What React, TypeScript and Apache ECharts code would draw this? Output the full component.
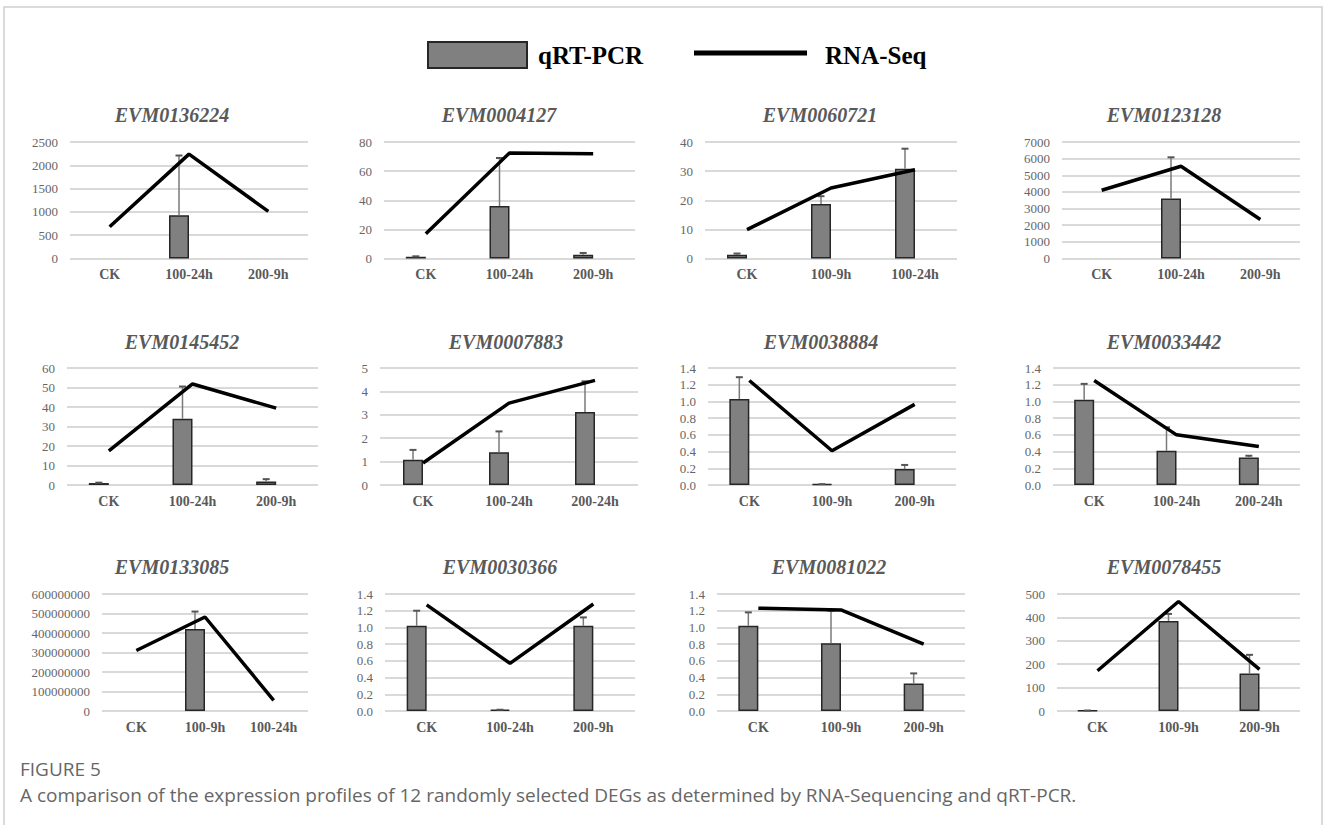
import React, { useEffect, useRef } from 'react';
import * as echarts from 'echarts';

// ---------- data ----------
const titles = [
  'EVM0136224', 'EVM0004127', 'EVM0060721', 'EVM0123128',
  'EVM0145452', 'EVM0007883', 'EVM0038884', 'EVM0033442',
  'EVM0133085', 'EVM0030366', 'EVM0081022', 'EVM0078455',
];

const categories = [
  ['CK', '100-24h', '200-9h'],
  ['CK', '100-24h', '200-9h'],
  ['CK', '100-9h', '100-24h'],
  ['CK', '100-24h', '200-9h'],
  ['CK', '100-24h', '200-9h'],
  ['CK', '100-24h', '200-24h'],
  ['CK', '100-9h', '200-9h'],
  ['CK', '100-24h', '200-24h'],
  ['CK', '100-9h', '100-24h'],
  ['CK', '100-24h', '200-9h'],
  ['CK', '100-9h', '200-9h'],
  ['CK', '100-9h', '200-9h'],
];

// qRT-PCR bar values
const qpcr: (number | null)[][] = [
  [null, 930, null],
  [1.2, 36, 2.6],
  [1.3, 18.7, 30.8],
  [null, 3600, null],
  [1, 34, 1.8],
  [1.08, 1.4, 3.12],
  [1.03, 0.01, 0.19],
  [1.02, 0.41, 0.33],
  [null, 420000000, null],
  [1.02, 0.015, 1.02],
  [1.02, 0.81, 0.33],
  [2, 385, 160],
];

// upper end of the qRT-PCR error bars
const qpcrErrTop: (number | null)[][] = [
  [null, 2210, null],
  [1.5, 69, 3.8],
  [1.7, 21.4, 37.7],
  [null, 6080, null],
  [1.2, 50.5, 3],
  [1.5, 2.29, 4.43],
  [1.29, 0.01, 0.24],
  [1.21, 0.69, 0.35],
  [null, 510000000, null],
  [1.2, 0.015, 1.12],
  [1.18, 1.2, 0.45],
  [2, 415, 240],
];

// RNA-Seq line values
const rnaSeq: number[][] = [
  [680, 2240, 1010],
  [17, 72.5, 72],
  [9.9, 24.2, 30.5],
  [4100, 5540, 2340],
  [17.5, 51.8, 39.4],
  [0.94, 3.5, 4.47],
  [1.25, 0.41, 0.965],
  [1.25, 0.6, 0.46],
  [310000000, 482000000, 55000000],
  [1.27, 0.57, 1.28],
  [1.23, 1.21, 0.8],
  [172, 468, 178],
];

const yMax = [2500, 80, 40, 7000, 60, 5, 1.4, 1.4, 600000000, 1.4, 1.4, 500];
const yStep = [500, 20, 10, 1000, 10, 1, 0.2, 0.2, 100000000, 0.2, 0.2, 100];

const legendLabels = ['qRT-PCR', 'RNA-Seq'];
const figureLabel = 'FIGURE 5';
const captionText =
  'A comparison of the expression profiles of 12 randomly selected DEGs as determined by RNA-Sequencing and qRT-PCR.';

// ---------- layout ----------
const gridX: [number, number][] = [
  [70, 308], [384, 635], [705, 957], [1062, 1300],
  [67, 318], [380, 638], [708, 956], [1053, 1300],
  [102, 308], [385, 635], [717, 965], [1057, 1300],
];
const rowGrid: [number, number][] = [[142, 258.5], [368, 485], [594, 711]];
const titleCX = [172, 499, 820, 1164, 182, 506, 821, 1164, 172, 500, 829, 1164];
const titleCY = [115, 342, 567];

const GREY_TXT = '#595959';
const SERIF = '"Liberation Serif", "Times New Roman", serif';

export default function App() {
  const ref = useRef<HTMLDivElement>(null);

  useEffect(() => {
    document.body.style.margin = '0';
    const chart = echarts.init(ref.current!, null, { renderer: 'svg' });

    const grid: any[] = [];
    const xAxis: any[] = [];
    const yAxis: any[] = [];
    const series: any[] = [];
    const graphic: any[] = [];

    titles.forEach((t, i) => {
      const row = Math.floor(i / 4);
      const [l, r] = gridX[i];
      const [top, bottom] = rowGrid[row];
      grid.push({ left: l, top, width: r - l, height: bottom - top, containLabel: false });
      xAxis.push({
        type: 'category',
        gridIndex: i,
        data: categories[i],
        axisLine: { show: false },
        axisTick: { show: false },
        axisLabel: {
          color: GREY_TXT,
          fontFamily: SERIF,
          fontWeight: 'bold',
          fontSize: 14,
          margin: 9,
        },
      });
      const step = yStep[i];
      yAxis.push({
        type: 'value',
        gridIndex: i,
        min: 0,
        max: yMax[i],
        interval: step,
        axisLine: { show: false },
        axisTick: { show: false },
        splitLine: { lineStyle: { color: '#d9d9d9', width: 2 } },
        axisLabel: {
          color: '#666666',
          fontFamily: SERIF,
          fontSize: 13,
          margin: 12,
          formatter: (v: number) => (step < 1 ? v.toFixed(1) : String(Math.round(v))),
        },
      });

      series.push({
        type: 'bar',
        name: legendLabels[0],
        xAxisIndex: i,
        yAxisIndex: i,
        data: qpcr[i],
        barWidth: 20,
        barGap: '0%',
        itemStyle: { color: '#808080', borderColor: '#262626', borderWidth: 1.5 },
        z: 2,
      });
      // placeholder slot so the bar sits left of category centre (as in the Excel original)
      series.push({
        type: 'bar',
        xAxisIndex: i,
        yAxisIndex: i,
        data: [null, null, null],
        barWidth: 20,
        barGap: '0%',
        silent: true,
      });
      const errData: number[][] = [];
      qpcr[i].forEach((v, k) => {
        const e = qpcrErrTop[i][k];
        if (v != null && e != null) errData.push([k, v, e]);
      });
      series.push({
        type: 'custom',
        xAxisIndex: i,
        yAxisIndex: i,
        data: errData,
        encode: { x: 0, y: [1, 2] },
        z: 3,
        renderItem: (params: any, api: any) => {
          const idx = api.value(0);
          const p0 = api.coord([idx, api.value(1)]);
          const p1 = api.coord([idx, api.value(2)]);
          const x = p0[0] - 10;
          return {
            type: 'group',
            children: [
              {
                type: 'line',
                shape: { x1: x, y1: p0[1], x2: x, y2: p1[1] },
                style: { stroke: '#7a7a7a', lineWidth: 1.5 },
              },
              {
                type: 'line',
                shape: { x1: x - 3.5, y1: p1[1], x2: x + 3.5, y2: p1[1] },
                style: { stroke: '#555555', lineWidth: 2 },
              },
            ],
          };
        },
      });
      series.push({
        type: 'line',
        name: legendLabels[1],
        xAxisIndex: i,
        yAxisIndex: i,
        data: rnaSeq[i],
        symbol: 'none',
        lineStyle: { color: '#000000', width: 3.5 },
        z: 4,
      });

      graphic.push({
        type: 'text',
        x: titleCX[i],
        y: titleCY[row],
        style: {
          text: t,
          font: `italic bold 20px ${SERIF}`,
          fill: GREY_TXT,
          align: 'center',
          verticalAlign: 'middle',
        },
      });
    });

    // frame
    graphic.push({
      type: 'rect',
      shape: { x: 4, y: 7, width: 1318, height: 840 },
      style: { fill: 'none', stroke: '#cfcfcf', lineWidth: 1.5 },
      z: -1,
    });
    // legend
    graphic.push({
      type: 'rect',
      shape: { x: 428, y: 42, width: 99, height: 26 },
      style: { fill: '#808080', stroke: '#262626', lineWidth: 2 },
    });
    graphic.push({
      type: 'text',
      x: 538,
      y: 55,
      style: {
        text: legendLabels[0],
        font: `bold 25px ${SERIF}`,
        fill: '#000000',
        align: 'left',
        verticalAlign: 'middle',
      },
    });
    graphic.push({
      type: 'line',
      shape: { x1: 694, y1: 53, x2: 807, y2: 53 },
      style: { stroke: '#000000', lineWidth: 5 },
    });
    graphic.push({
      type: 'text',
      x: 825,
      y: 55,
      style: {
        text: legendLabels[1],
        font: `bold 25px ${SERIF}`,
        fill: '#000000',
        align: 'left',
        verticalAlign: 'middle',
      },
    });
    // caption
    graphic.push({
      type: 'text',
      x: 20,
      y: 769,
      style: {
        text: figureLabel,
        font: '19px "Open Sans", sans-serif',
        fill: '#666666',
        align: 'left',
        verticalAlign: 'middle',
      },
    });
    graphic.push({
      type: 'text',
      x: 20,
      y: 795,
      style: {
        text: captionText,
        font: '19px "Open Sans", sans-serif',
        fill: '#666666',
        align: 'left',
        verticalAlign: 'middle',
      },
    });

    chart.setOption({
      animation: false,
      backgroundColor: '#ffffff',
      grid,
      xAxis,
      yAxis,
      series,
      graphic,
    });

    return () => chart.dispose();
  }, []);

  return <div ref={ref} style={{ width: 1328, height: 825 }} />;
}
